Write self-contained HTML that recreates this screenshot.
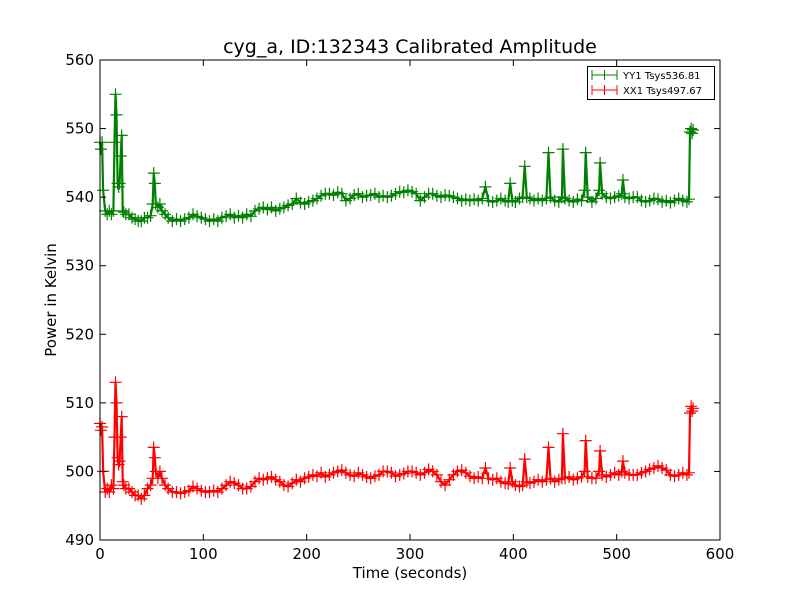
<!DOCTYPE html>
<html><head><meta charset="utf-8"><style>
body{margin:0;background:#fff;}
svg{display:block;font-family:"DejaVu Sans","Liberation Sans",sans-serif;}
</style></head><body>
<svg id="chart" width="800" height="600">
<rect width="800" height="600" fill="#fff"/>
<text x="410" y="53" text-anchor="middle" font-size="19">cyg_a, ID:132343 Calibrated Amplitude</text>
<g id="plot"></g>
<g id="axes"></g>
<text x="410" y="578" text-anchor="middle" font-size="15">Time (seconds)</text>
<text transform="translate(56,300) rotate(-90)" text-anchor="middle" font-size="15">Power in Kelvin</text>
<g>
<rect x="587.5" y="66.5" width="127" height="33" fill="#fff" stroke="#000"/>
<g>
<line x1="592" y1="75" x2="617" y2="75" stroke="green"/><line x1="604.5" y1="70" x2="604.5" y2="80" stroke="green"/><line x1="592" y1="70" x2="592" y2="80" stroke="green"/><line x1="617" y1="70" x2="617" y2="80" stroke="green"/>
<text x="623" y="79" font-size="10">YY1 Tsys536.81</text></g>
<g>
<line x1="592" y1="90" x2="617" y2="90" stroke="red"/><line x1="604.5" y1="85" x2="604.5" y2="95" stroke="red"/><line x1="592" y1="85" x2="592" y2="95" stroke="red"/><line x1="617" y1="85" x2="617" y2="95" stroke="red"/>
<text x="623" y="94" font-size="10">XX1 Tsys497.67</text></g>
</g>
</svg>
<script>
const times=[0,1,2,3,5,7,9,11,13,14,15,16,17,18,19,20,21,22,23,25,28,31,34,37,40,43,46,49,51,52,53,54,56,58,60,63,66,70,74,78,82,86,90,94,98,102,106,110,114,118,122,126,130,134,138,142,146,150,154,158,162,166,170,174,178,182,186,190,194,198,202,206,210,214,218,222,226,230,234,238,242,246,250,254,258,262,266,270,274,278,282,286,290,294,298,302,306,310,314,318,322,326,330,334,338,342,346,350,354,358,362,366,370,373,376,380,384,388,392,395,397,399,402,406,409,411,413,416,420,424,428,432,434,436,440,444,447,448,450,454,458,462,466,469,470,472,476,480,483,484,486,490,494,498,502,505,506,508,512,516,520,524,528,532,536,540,544,548,552,556,560,564,568,570,571,572,573,574];
const yy1=[548,547,548,541,538,537.5,538,537.5,538,548,555,552,542,541.5,542,546,549,538,537.8,537.5,537.5,537,536.8,536.5,536.5,537,537,537.3,539,543.5,542,539,538.5,539,538,537.5,537,536.5,536.8,536.5,536.8,537,537.5,537.2,537,536.8,536.5,536.8,536.5,537,537.2,537.5,537,537.3,537,537.5,537.2,538,538.3,538.5,538.2,538.5,538,538.3,538.5,538.8,539,539.8,539.2,539,539.3,539.5,539.8,540.2,540.5,540.5,540.3,540.7,540.5,539.5,539.8,540.3,540.5,540,540.2,540.3,540.5,540,540.2,540,540.2,540.5,540.8,540.7,541,540.8,540.5,539.5,540,540.5,540.5,540.2,540,540.3,540.2,540,539.8,539.5,539.7,539.5,539.7,539.5,539.8,541.5,539.5,539.3,539.5,539.8,539.5,539.3,542,539.5,539.3,539.8,540,544.5,540,539.8,539.5,539.8,539.5,539.8,546.5,540,539.5,539.3,540,547,539.8,539.5,539.3,539.7,539.5,541,546.5,540,539.3,539.8,541,545,540.5,540,539.8,540,540.2,540.5,542.5,540,539.8,540,540,539.5,539.3,539.5,539.8,539.7,539.3,539.5,539.2,539.5,539.8,539.5,539.3,539.7,549.5,550,549.3,549.8];
const xx1=[507,506,506.5,500,497,497.5,497,498,497.5,505,513,510,502,501,501.5,505,508,498.5,498,497.5,497.5,497,496.5,496.5,496,496.5,497.5,498,499,503.5,502,500,499,500,499,498,497.5,497,497,496.8,497,497.2,497.8,497.5,497.2,497,497,497.2,497,497.5,498,498.5,498.3,498,497.5,497.5,497.8,498.5,499,498.8,499,499.2,498.8,498.5,498,497.8,498.3,498.8,498.5,499,499.2,499.5,499.3,499.8,499.2,499.5,499.8,500,500.2,499.8,499.5,499.3,499.8,499.5,499.2,499,499.3,499.5,500,500,499.8,499.3,499.5,499.7,500,500,499.8,499.5,499.8,500.3,500,499.5,498.5,498,498.8,499.5,500,500.2,499.8,499.3,499,499.2,499,500.5,499,498.8,499,498.5,498.3,498.2,500.5,498.5,498,497.8,498,501.8,498.5,498.3,498.5,498.8,498.5,498.8,503.5,499,498.5,498.8,499,505.5,499,499.2,498.8,499,499.2,500,504.5,499.2,499,499,500,503,499.5,499.2,499.5,499.8,499.5,500,501.5,499.8,499.5,499.5,499.5,499.8,500,500.3,500.5,500.8,500.5,500.2,499.5,499.3,499.5,499.8,499.5,499.8,508.5,509.5,508.8,509.2];
const xTicks=[0,100,200,300,400,500,600];
const yTicks=[490,500,510,520,530,540,550,560];
const X0=100,X1=720,Y0=540,Y1=60;
const xs=v=>X0+(v-0)/600*(X1-X0);
const ys=v=>Y0-(v-490)/70*(Y0-Y1);
const NS='http://www.w3.org/2000/svg';
const plot=document.getElementById('plot'),axes=document.getElementById('axes');
function mk(tag,attrs,parent){const e=document.createElementNS(NS,tag);for(const k in attrs)e.setAttribute(k,attrs[k]);parent.appendChild(e);return e;}
function series(vals,color,name){
  const g=mk('g',{},plot);
  
  
  const d=times.map((t,i)=>(i?'L':'M')+xs(t).toFixed(1)+' '+ys(vals[i]).toFixed(1)).join('');
  const p=mk('path',{d:d,fill:'none',stroke:color,'stroke-width':2.2,'stroke-linejoin':'round'},g);
  
  
  let md='';
  times.forEach((t,i)=>{const x=xs(t),y=ys(vals[i]);md+=`M${(x-6).toFixed(1)} ${y.toFixed(1)}h12M${x.toFixed(1)} ${(y-6).toFixed(1)}v12`;});
  const m=mk('path',{d:md,fill:'none',stroke:color,'stroke-width':1.2},g);
  
  
}
series(yy1,'green','series-yy1');
series(xx1,'red','series-xx1');
const frame=mk('rect',{x:X0,y:Y1,width:X1-X0,height:Y0-Y1,fill:'none',stroke:'#000','stroke-width':1},axes);


xTicks.forEach(v=>{const x=xs(v);
  mk('line',{x1:x,y1:Y0,x2:x,y2:Y0-6,stroke:'#000'},axes);
  mk('line',{x1:x,y1:Y1,x2:x,y2:Y1+6,stroke:'#000'},axes);
  const t=mk('text',{x:x,y:Y0+19,'text-anchor':'middle','font-size':15},axes);t.textContent=v;
  
  
});
yTicks.forEach(v=>{const y=ys(v);
  mk('line',{x1:X0,y1:y,x2:X0+6,y2:y,stroke:'#000'},axes);
  mk('line',{x1:X1,y1:y,x2:X1-6,y2:y,stroke:'#000'},axes);
  const t=mk('text',{x:X0-6,y:y+5,'text-anchor':'end','font-size':15},axes);t.textContent=v;
  
  
});
</script>
</body></html>
